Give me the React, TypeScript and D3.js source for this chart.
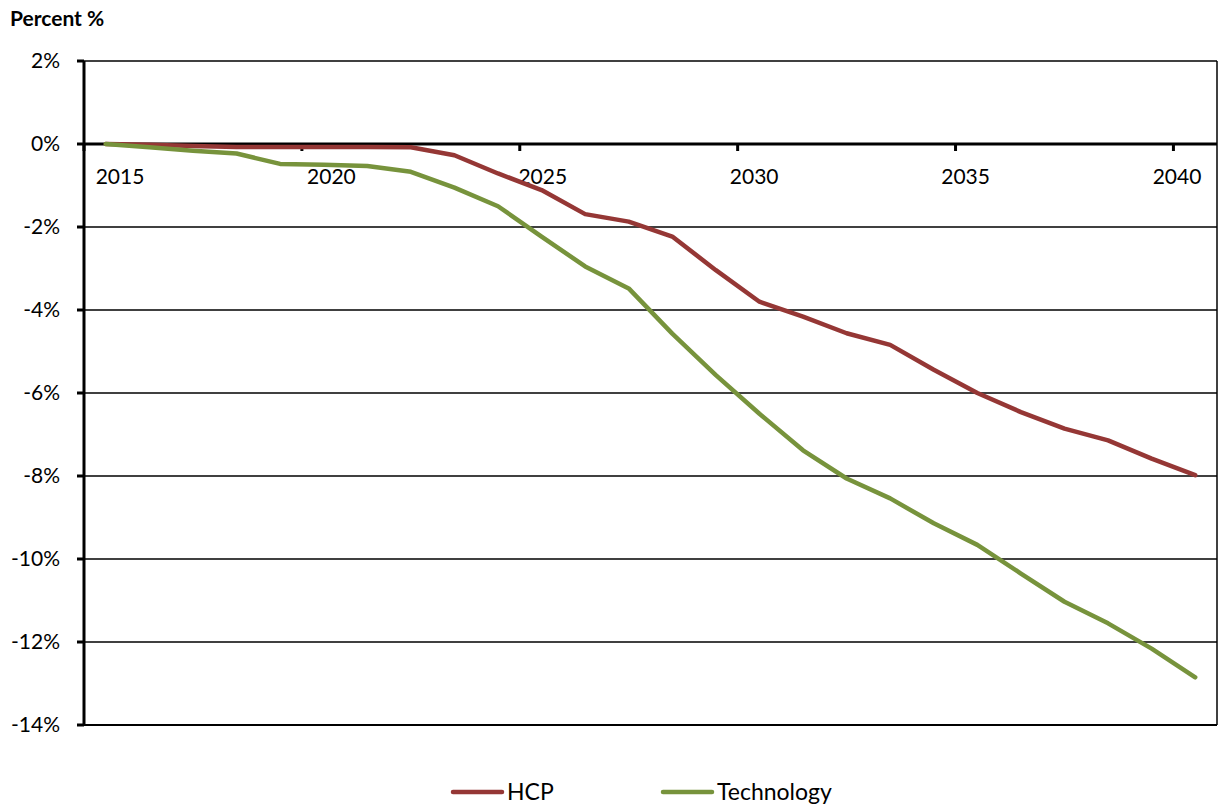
import React from "react";
import * as d3 from "d3";

const years = d3.range(2015, 2041);
const hcp = [0, -0.02, -0.05, -0.07, -0.07, -0.07, -0.07, -0.08, -0.27, -0.71, -1.11, -1.69, -1.87, -2.23, -3.04, -3.8, -4.16, -4.56, -4.84, -5.44, -6.0, -6.46, -6.86, -7.14, -7.58, -7.98];
const technology = [0, -0.08, -0.16, -0.23, -0.48, -0.5, -0.53, -0.67, -1.05, -1.5, -2.23, -2.95, -3.48, -4.57, -5.57, -6.5, -7.38, -8.06, -8.54, -9.14, -9.66, -10.35, -11.03, -11.55, -12.16, -12.85];
const yTicks = [2, 0, -2, -4, -6, -8, -10, -12, -14];
const xLabelYears = [2015, 2020, 2025, 2030, 2035, 2040];
const seriesNames = ["HCP", "Technology"];
const seriesColors = ["#953735", "#77933C"];

const W = 1222, H = 804;
const left = 84, right = 1217, top = 61, bottom = 725;
const FONT = "Lato, 'Open Sans', sans-serif";

export default function App() {
  const x = d3.scaleBand<number>().domain(years).range([left, right]).padding(0);
  const xc = (yr: number) => (x(yr) as number) + x.bandwidth() / 2;
  const y = d3.scaleLinear().domain([-14, 2]).range([bottom, top]);
  const xLabel = d3.scaleLinear().domain([2015, 2040]).range([120, 1177]);
  const line = d3.line<number>().x((_, i) => xc(years[i])).y((d) => y(d));
  const series = [hcp, technology];
  const boundaryTicks = xLabelYears.map((yr) => x(yr) as number);

  return (
    <svg width={W} height={H} style={{ position: "absolute", left: 0, top: 0, background: "#fff" }} fontFamily={FONT}>
      <text x={10} y={26} fontSize={21} fontWeight="bold" fill="#000">Percent %</text>
      {/* gridlines */}
      {yTicks.filter((t) => t !== 0).map((t) => (
        <line key={t} x1={left} x2={right} y1={y(t)} y2={y(t)} stroke="#000" strokeWidth={t === -14 ? 2 : 1.3} />
      ))}
      {/* right border */}
      <line x1={right} x2={right} y1={top} y2={bottom} stroke="#000" strokeWidth={1.5} />
      {/* y ticks */}
      {yTicks.map((t) => (
        <g key={t}>
          <line x1={left - 7} x2={left} y1={y(t)} y2={y(t)} stroke="#000" strokeWidth={3} />
          <text x={60} y={y(t)} dy="0.35em" textAnchor="end" fontSize={21} fill="#000">{`${t}%`}</text>
        </g>
      ))}
      {/* x axis */}
      <line x1={left} x2={right} y1={y(0)} y2={y(0)} stroke="#000" strokeWidth={3} />
      {boundaryTicks.map((bx, i) => (
        <line key={i} x1={bx} x2={bx} y1={y(0)} y2={y(0) + 7} stroke="#000" strokeWidth={3} />
      ))}
      {xLabelYears.map((yr) => (
        <text key={yr} x={xLabel(yr)} y={184} textAnchor="middle" fontSize={21} fill="#000">{yr}</text>
      ))}
      {/* y axis */}
      <line x1={left} x2={left} y1={top} y2={bottom} stroke="#000" strokeWidth={3} />
      {/* series */}
      {series.map((s, i) => (
        <path key={i} d={line(s) || ""} fill="none" stroke={seriesColors[i]} strokeWidth={4.5} strokeLinejoin="round" strokeLinecap="round" />
      ))}
      {/* legend */}
      {seriesNames.map((n, i) => {
        const lx = i === 0 ? 453 : 663;
        return (
          <g key={n}>
            <line x1={lx} x2={lx + 49} y1={792} y2={792} stroke={seriesColors[i]} strokeWidth={4.5} strokeLinecap="round" />
            <text x={lx + 54} y={792} dy="0.35em" fontSize={23} fill="#000">{n}</text>
          </g>
        );
      })}
    </svg>
  );
}
